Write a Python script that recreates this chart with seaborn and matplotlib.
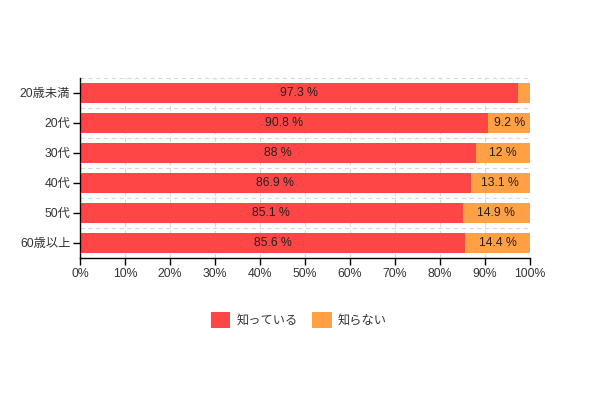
import matplotlib
matplotlib.use("Agg")
import matplotlib.pyplot as plt
import seaborn as sns
import pandas as pd
from matplotlib.ticker import FixedLocator, PercentFormatter
from matplotlib.patches import Patch

categories = ["20歳未満", "20代", "30代", "40代", "50代", "60歳以上"]
know = [97.3, 90.8, 88, 86.9, 85.1, 85.6]
dont_know = [2.7, 9.2, 12, 13.1, 14.9, 14.4]
series_names = ["知っている", "知らない"]
colors = ["#FF4646", "#FFA044"]

sns.set_style("white")
plt.rcParams['font.family'] = ['Liberation Sans', 'Noto Sans CJK JP', 'DejaVu Sans']

df = pd.DataFrame({"cat": categories, "know": know, "dont": dont_know})
df["total"] = df["know"] + df["dont"]

fig = plt.figure(figsize=(5.98, 3.98), dpi=100)
ax = fig.add_axes([0.1338, 0.352, 0.886 - 0.1338, 0.804 - 0.352])

sns.barplot(data=df, y="cat", x="total", color=colors[1], orient="h", width=0.67, ax=ax,
            saturation=1, edgecolor="none")
sns.barplot(data=df, y="cat", x="know", color=colors[0], orient="h", width=0.67, ax=ax,
            saturation=1, edgecolor="none")

for i, (k, d) in enumerate(zip(know, dont_know)):
    ax.text(k / 2, i, f"{k:g} %", ha="center", va="center", fontsize=8.8, color="#222222")
    if d >= 5:
        ax.text(k + d / 2, i, f"{d:g} %", ha="center", va="center", fontsize=8.8, color="#222222")

ax.set_xlim(0, 100)
ax.set_ylim(len(categories) - 0.5, -0.5)
ax.xaxis.set_major_locator(FixedLocator(list(range(0, 101, 10))))
ax.xaxis.set_major_formatter(PercentFormatter(decimals=0))
ax.yaxis.set_minor_locator(FixedLocator([i - 0.5 for i in range(len(categories) + 1)]))
ax.grid(True, axis="x", which="major", linestyle=(0, (4, 3)), color="#d8d8d8", linewidth=0.8)
ax.grid(True, axis="y", which="minor", linestyle=(0, (4, 3)), color="#d8d8d8", linewidth=0.8)
ax.set_axisbelow(True)
ax.set_xlabel("")
ax.set_ylabel("")
for s in ["top", "right"]:
    ax.spines[s].set_visible(False)
for s in ["left", "bottom"]:
    ax.spines[s].set_color("black")
    ax.spines[s].set_linewidth(1)
ax.tick_params(axis="both", which="major", length=5, width=1, color="black", labelsize=8.8,
               labelcolor="#333333", direction="out", left=True, bottom=True, pad=2)
ax.tick_params(axis="y", which="minor", length=0)

handles = [Patch(facecolor=c, edgecolor="none") for c in colors]
fig.legend(handles, series_names, loc="center", bbox_to_anchor=(0.5, 0.196), ncol=2,
           frameon=False, fontsize=8.8, handlelength=1.6, handleheight=1.6,
           columnspacing=1.2, handletextpad=0.5, labelcolor="#333333")

fig.savefig("out.png", dpi=100)
